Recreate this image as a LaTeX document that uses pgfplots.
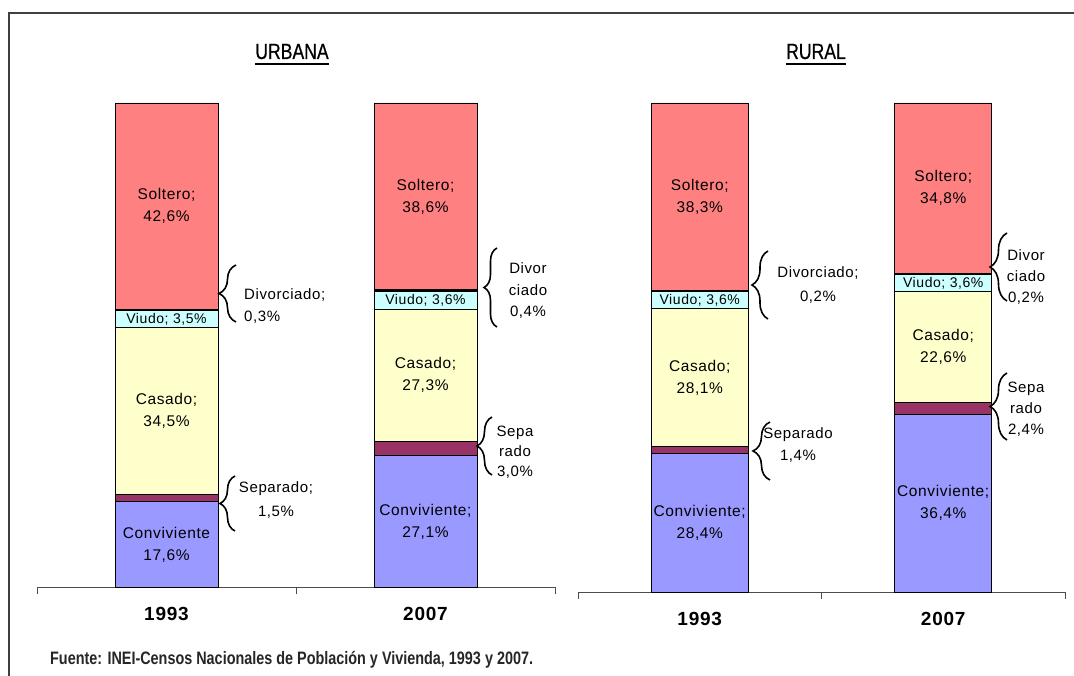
\documentclass[border=0pt]{standalone}
\usepackage{pgfplots}
\pgfplotsset{compat=1.18}
\usepackage{fontspec}
\setmainfont{Liberation Sans}[LetterSpace=4]
\newfontfamily\narrow{Liberation Sans}[FakeStretch=0.8]
\newfontfamily\narrowtitle{Liberation Sans}[FakeStretch=0.8, FakeBold=0.6]
\usetikzlibrary{decorations.pathreplacing}
\definecolor{conv}{HTML}{9999FF}
\definecolor{sep}{HTML}{993366}
\definecolor{cas}{HTML}{FFFFCC}
\definecolor{viu}{HTML}{CCFFFF}
\definecolor{div}{HTML}{000000}
\definecolor{sol}{HTML}{FF8080}
\newcommand{\lbl}{\fontsize{15.5}{22}\selectfont}
\newcommand{\vlbl}{\fontsize{14}{16}\selectfont}
\newcommand{\brc}[4]{\draw[decorate, decoration={brace, amplitude=#4pt}, line width=1.6pt] (#1,{675-#3}) -- (#1,{675-#2});}
\pgfplotsset{
  common/.style={
    anchor=south west, scale only axis,
    xmin=-0.5, xmax=1.5, ymin=0, ymax=100,
    axis y line=none, axis x line*=bottom,
    xtick={-0.5,0.5,1.5}, xticklabels={},
    tick align=outside, major tick length=7pt,
    x axis line style={black!70, line width=0.9pt},
    xtick style={black!70, line width=0.9pt},
    ybar stacked, clip=false,
    every axis plot/.append style={draw=black, line width=0.8pt},
  }
}
\begin{document}
\begin{tikzpicture}[x=1pt,y=1pt]
\useasboundingbox (0,0) rectangle (1074,675);
\draw[line width=1.3pt, black!75] (9,-5) -- (9,662) -- (1080,662);

% URBANA
\begin{axis}[common, at={(37pt,88pt)}, width=518pt, height=484pt, bar width=103pt]
\addplot[fill=conv] coordinates {(0,17.6) (1,27.1)};
\addplot[fill=sep] coordinates {(0,1.5) (1,3.0)};
\addplot[fill=cas] coordinates {(0,34.5) (1,27.3)};
\addplot[fill=viu] coordinates {(0,3.5) (1,3.6)};
\addplot[fill=div] coordinates {(0,0.3) (1,0.4)};
\addplot[fill=sol] coordinates {(0,42.6) (1,38.6)};
\coordinate (a1) at (axis cs:0,78.7);
\coordinate (a2) at (axis cs:0,55.35);
\coordinate (a3) at (axis cs:0,36.35);
\coordinate (a4) at (axis cs:0,8.8);
\coordinate (b1) at (axis cs:1,80.7);
\coordinate (b2) at (axis cs:1,59.2);
\coordinate (b3) at (axis cs:1,43.75);
\coordinate (b4) at (axis cs:1,13.55);
\coordinate (y1) at (axis cs:0,0);
\coordinate (y2) at (axis cs:1,0);
\end{axis}

% RURAL
\begin{axis}[common, at={(578pt,83pt)}, width=487pt, height=489pt, bar width=97pt]
\addplot[fill=conv] coordinates {(0,28.4) (1,36.4)};
\addplot[fill=sep] coordinates {(0,1.4) (1,2.4)};
\addplot[fill=cas] coordinates {(0,28.1) (1,22.6)};
\addplot[fill=viu] coordinates {(0,3.6) (1,3.6)};
\addplot[fill=div] coordinates {(0,0.2) (1,0.2)};
\addplot[fill=sol] coordinates {(0,38.3) (1,34.8)};
\coordinate (c1) at (axis cs:0,80.85);
\coordinate (c2) at (axis cs:0,59.7);
\coordinate (c3) at (axis cs:0,43.85);
\coordinate (c4) at (axis cs:0,14.2);
\coordinate (d1) at (axis cs:1,82.6);
\coordinate (d2) at (axis cs:1,63.2);
\coordinate (d3) at (axis cs:1,50.1);
\coordinate (d4) at (axis cs:1,18.2);
\coordinate (y3) at (axis cs:0,0);
\coordinate (y4) at (axis cs:1,0);
\end{axis}

% bar labels
\node[align=center, font=\lbl] at (a1) {Soltero;\\42,6\%};
\node[inner sep=0, font=\vlbl] at (a2) {Viudo; 3,5\%};
\node[align=center, font=\lbl] at (a3) {Casado;\\34,5\%};
\node[align=center, font=\lbl] at (a4) {Conviviente\\17,6\%};
\node[align=center, font=\lbl] at (b1) {Soltero;\\38,6\%};
\node[inner sep=0, font=\vlbl] at (b2) {Viudo; 3,6\%};
\node[align=center, font=\lbl] at (b3) {Casado;\\27,3\%};
\node[align=center, font=\lbl] at (b4) {Conviviente;\\27,1\%};
\node[align=center, font=\lbl] at (c1) {Soltero;\\38,3\%};
\node[inner sep=0, font=\vlbl] at (c2) {Viudo; 3,6\%};
\node[align=center, font=\lbl] at (c3) {Casado;\\28,1\%};
\node[align=center, font=\lbl] at (c4) {Conviviente;\\28,4\%};
\node[align=center, font=\lbl] at (d1) {Soltero;\\34,8\%};
\node[inner sep=0, font=\vlbl] at (d2) {Viudo; 3,6\%};
\node[align=center, font=\lbl] at (d3) {Casado;\\22,6\%};
\node[align=center, font=\lbl] at (d4) {Conviviente;\\36,4\%};
\foreach \p/\t in {y1/1993, y2/2007, y3/1993, y4/2007}
  \node[font=\bfseries\fontsize{19}{21}\selectfont, yshift=-27pt] at (\p) {\t};

% titles
\node[font=\narrowtitle\fontsize{22}{24}\selectfont, inner sep=0, anchor=base] (ur) at (292,616) {URBANA};
\draw[line width=1.8pt] ([yshift=-5pt]ur.base west) -- ([yshift=-5pt]ur.base east);
\node[font=\narrowtitle\fontsize{22}{24}\selectfont, inner sep=0, anchor=base] (ru) at (816,616) {RURAL};
\draw[line width=1.8pt] ([yshift=-5pt]ru.base west) -- ([yshift=-5pt]ru.base east);

% braces
\brc{236}{265}{322}{17}
\brc{497}{248}{327}{13}
\brc{768}{251}{319}{16}
\brc{1007}{233}{301}{17}
\brc{235}{476}{531}{15}
\brc{492}{417}{475}{15}
\brc{770}{422}{480}{17}
\brc{1007}{373}{440}{17}

% annotation labels
\node[anchor=west, align=left, inner sep=0, font=\fontsize{15}{22}\selectfont] at (244,{675-306}) {Divorciado;\\0,3\%};
\node[align=center, inner sep=0, font=\fontsize{15}{21.5}\selectfont] at (528,{675-291}) {Divor\\ciado\\0,4\%};
\node[align=center, inner sep=0, font=\fontsize{15}{24}\selectfont] at (818,{675-285}) {Divorciado;\\0,2\%};
\node[align=center, inner sep=0, font=\fontsize{15}{21}\selectfont] at (1026,{675-277}) {Divor\\ciado\\0,2\%};
\node[align=center, inner sep=0, font=\fontsize{15}{24}\selectfont] at (276,{675-500}) {Separado;\\1,5\%};
\node[align=center, inner sep=0, font=\fontsize{15}{20}\selectfont] at (515,{675-452}) {Sepa\\rado\\3,0\%};
\node[align=center, inner sep=0, font=\fontsize{15}{22}\selectfont] at (798,{675-445}) {Separado\\1,4\%};
\node[align=center, inner sep=0, font=\fontsize{15}{21}\selectfont] at (1026,{675-409}) {Sepa\\rado\\2,4\%};

% source
\node[anchor=west, inner sep=0, font=\narrow\bfseries\fontsize{18}{20}\selectfont, text=black!85] at (50,{675-660}) {Fuente: INEI-Censos Nacionales de Población y Vivienda, 1993 y 2007.};
\end{tikzpicture}
\end{document}
